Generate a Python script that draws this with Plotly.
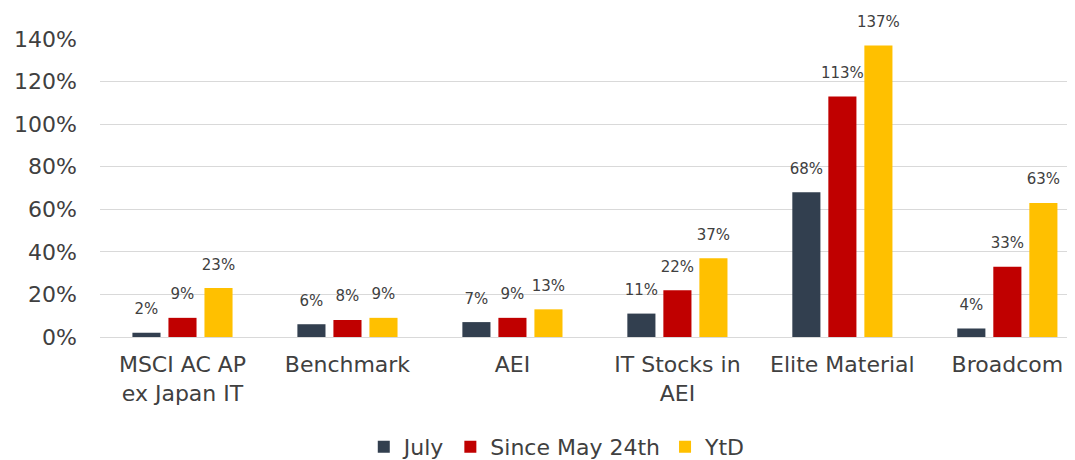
import plotly.graph_objects as go

categories = ["MSCI AC AP<br>ex Japan IT", "Benchmark", "AEI", "IT Stocks in<br>AEI", "Elite Material", "Broadcom"]
july = [2, 6, 7, 11, 68, 4]
since_may = [9, 8, 9, 22, 113, 33]
ytd = [23, 9, 13, 37, 137, 63]
series_names = ["July", "Since May 24th", "YtD"]
colors = ["#323F4F", "#C00000", "#FFC000"]
y_ticks = [0, 20, 40, 60, 80, 100, 120, 140]

FONT = "DejaVu Sans"
TXT = "#404040"
xs = list(range(len(categories)))

fig = go.Figure()
for name, vals, col in zip(series_names, [july, since_may, ytd], colors):
    fig.add_trace(go.Bar(
        x=xs, y=vals, name=name, offsetgroup=name,
        marker=dict(color=col, line=dict(width=0)),
    ))
for name, vals in zip(series_names, [july, since_may, ytd]):
    fig.add_trace(go.Scatter(
        x=xs, y=vals, mode="markers+text", offsetgroup=name, showlegend=False,
        marker=dict(size=22, opacity=0), hoverinfo="skip",
        text=[f"{v}%" for v in vals], textposition="top center",
        textfont=dict(family=FONT, size=15, color=TXT), cliponaxis=False,
    ))

fig.update_layout(
    width=1067, height=452,
    margin=dict(l=92, r=0, t=31, b=123, autoexpand=False),
    paper_bgcolor="white", plot_bgcolor="white",
    barmode="group", bargap=0.345, bargroupgap=0.22,
    scattermode="group", scattergap=0.345,
    font=dict(family=FONT, color=TXT),
    showlegend=True,
    legend=dict(orientation="h", x=0.469, xanchor="center", y=-0.369, yanchor="middle",
                font=dict(family=FONT, size=22, color=TXT), itemwidth=30,
                traceorder="normal"),
)
fig.update_xaxes(
    tickmode="array", tickvals=xs, ticktext=categories,
    range=[-0.5, 5.41], showgrid=False, zeroline=False, showline=False,
    tickfont=dict(family=FONT, size=22, color=TXT), ticks="", ticklabelstandoff=12,
)
fig.update_yaxes(
    range=[0, 140], tickvals=y_ticks, ticktext=[f"{v}%" for v in y_ticks],
    showgrid=True, gridcolor="#D9D9D9", gridwidth=1,
    zeroline=True, zerolinecolor="#D9D9D9", zerolinewidth=1,
    showline=False, ticks="", ticklabelstandoff=22,
    tickfont=dict(family=FONT, size=22, color=TXT),
)

fig.write_html("out.html")
